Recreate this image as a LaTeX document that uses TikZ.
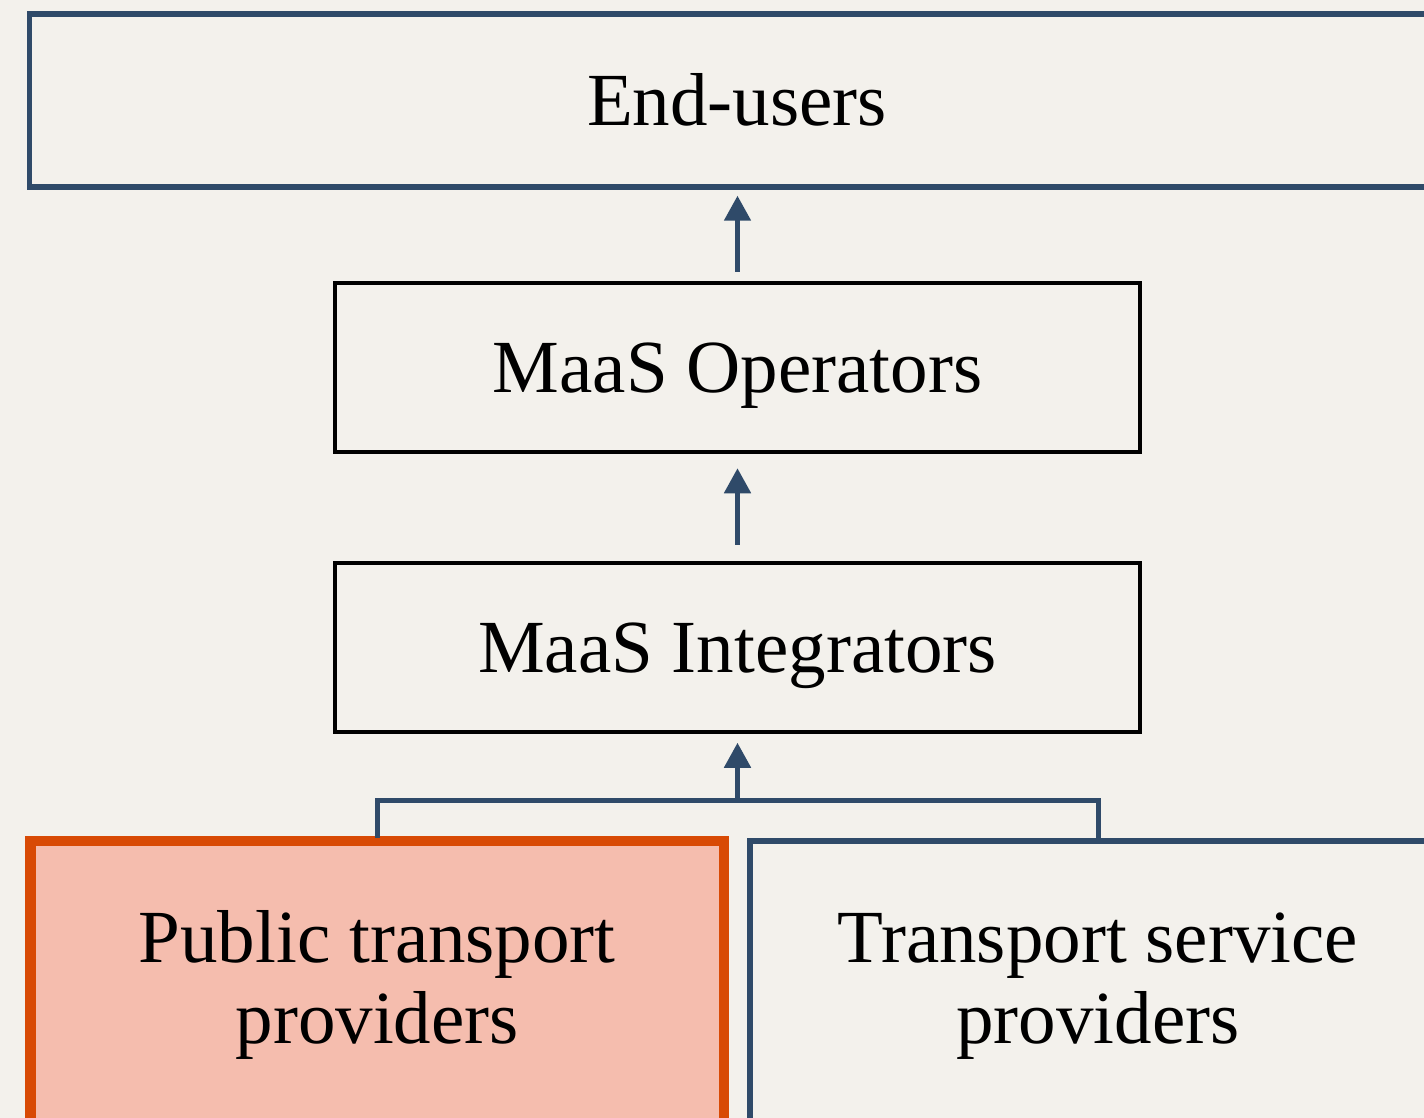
\documentclass[tikz,border=0pt]{standalone}
\usepackage{fontspec}
\setmainfont{Liberation Serif}
\usetikzlibrary{arrows.meta}
\definecolor{bg}{HTML}{F3F1EC}
\definecolor{navy}{HTML}{2F4A69}
\definecolor{rust}{HTML}{D84A05}
\definecolor{salmon}{HTML}{F5BDAE}
\begin{document}
\begin{tikzpicture}[x=1pt,y=-1pt,
  lbl/.style={font=\fontsize{75}{81}\selectfont, text height=50pt, text depth=0pt, inner sep=0pt},
  twoline/.style={align=center, text height=131pt, text depth=36pt},
  bluebox/.style={draw=navy, line width=5.5pt, lbl},
  blackbox/.style={draw=black, line width=4.5pt, lbl},
  orangebox/.style={draw=rust, fill=salmon, line width=10.5pt, lbl},
  conn/.style={draw=navy, line width=5pt},
  arr/.style={conn, -{Triangle[length=25pt,width=26pt]}}]
\useasboundingbox (0,0) rectangle (1424,1118);
\clip (0,0) rectangle (1424,1118);
\fill[bg] (0,0) rectangle (1424,1118);

\node[bluebox, minimum width=1415pt, minimum height=172.7pt] (end) at (737,100.6) {End-users};
\node[blackbox, minimum width=805pt, minimum height=169pt] (ops) at (737.5,367.5) {MaaS Operators};
\node[blackbox, minimum width=805pt, minimum height=169pt] (integ) at (737.5,647.5) {MaaS Integrators};
\node[orangebox, twoline, minimum width=693.5pt, minimum height=309pt] (ptp) at (377.25,995.5) {Public transport\\providers};
\node[bluebox, twoline, minimum width=696pt, minimum height=309pt] (tsp) at (1098,995.5) {Transport service\\providers};

\draw[arr, shorten <=9pt, shorten >=6pt] (ops.north) -- (ops.north |- end.south);
\draw[arr, shorten <=16pt, shorten >=14pt] (integ.north) -- (integ.north |- ops.south);
\draw[conn] ([yshift=-2pt]ptp.north) -- ++(0,-37.3) coordinate (j1) -| ([yshift=-1pt]tsp.north);
\coordinate (j) at (integ.south |- j1);
\draw[arr, shorten >=8.5pt] ([yshift=2.5pt]j) -- (integ.south);
\end{tikzpicture}
\end{document}
